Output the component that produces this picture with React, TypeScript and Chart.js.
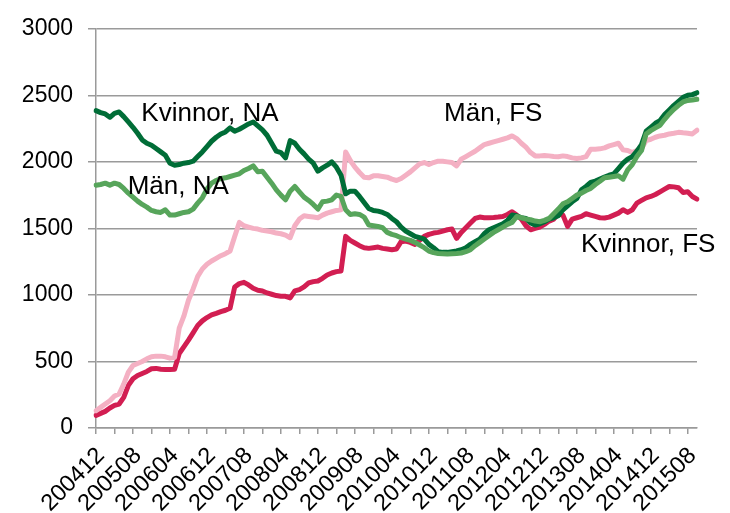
import React, { useEffect, useRef } from "react";
import { Chart, registerables } from "chart.js";

Chart.register(...registerables);

// Monthly categories 200412 .. 201510
const START_YEAR = 2004;
const START_MONTH = 12;
const MONTH_COUNT = 131;
const months: string[] = [];
for (let k = 0; k < MONTH_COUNT; k++) {
  const m0 = START_MONTH - 1 + k;
  const y = START_YEAR + Math.floor(m0 / 12);
  const m = (m0 % 12) + 1;
  months.push(`${y}${m < 10 ? "0" + m : m}`);
}

const yTicks = [0, 500, 1000, 1500, 2000, 2500, 3000];

const kvinnorNA = [
  2385, 2370, 2360, 2335, 2365, 2375, 2340, 2300, 2260, 2215,
  2165, 2140, 2125, 2100, 2075, 2050, 1990, 1975, 1980, 1990,
  1995, 2005, 2040, 2075, 2115, 2155, 2185, 2210, 2225, 2255,
  2230, 2245, 2265, 2285, 2300, 2270, 2240, 2200, 2140, 2080,
  2070, 2030, 2160, 2140, 2095, 2060, 2020, 1990, 1930, 1955,
  1975, 2000, 1960, 1900, 1760, 1780, 1780, 1740, 1695, 1650,
  1635, 1630, 1620, 1605, 1575, 1550, 1510, 1480, 1460, 1440,
  1430, 1420, 1380, 1355, 1325, 1320, 1320, 1325, 1330, 1340,
  1355, 1380, 1400, 1420, 1460, 1490, 1505, 1520, 1535, 1560,
  1600, 1595, 1580, 1575, 1540, 1525, 1535, 1550, 1570, 1580,
  1595, 1640, 1670, 1700, 1725, 1790, 1815, 1845, 1855, 1870,
  1885, 1900, 1910, 1950, 1990, 2020, 2040, 2080, 2130, 2230,
  2260, 2290, 2310, 2355, 2390, 2425, 2455, 2485, 2500, 2505,
  2520,
];

const manNA = [
  1825, 1830, 1840, 1825, 1840, 1830, 1800, 1765, 1735, 1705,
  1680, 1660, 1635, 1625, 1620, 1640, 1600, 1600, 1610, 1620,
  1625, 1645, 1690, 1730, 1795, 1840, 1860, 1875, 1880, 1890,
  1900, 1910, 1935, 1950, 1970, 1925, 1930, 1885, 1840, 1790,
  1750, 1715, 1780, 1815, 1775, 1735, 1710, 1680, 1645, 1700,
  1705, 1715, 1750, 1740, 1640, 1605, 1610, 1605, 1585, 1525,
  1520, 1515, 1505, 1470, 1455, 1445, 1430, 1420, 1410, 1395,
  1375, 1355, 1330, 1318, 1312, 1310, 1308, 1310, 1312, 1315,
  1325, 1340, 1370, 1395, 1420, 1445, 1470, 1490, 1510, 1530,
  1545, 1590, 1580, 1570, 1565, 1555, 1550, 1560, 1575, 1610,
  1645, 1685, 1700, 1725, 1750, 1765, 1785, 1800, 1830, 1855,
  1880, 1885, 1890, 1895, 1870, 1940, 1980, 2040, 2085, 2210,
  2235, 2255, 2275, 2320, 2360, 2395, 2425, 2450, 2462, 2465,
  2470,
];

const manFS = [
  130, 155, 180, 205, 240, 255, 330, 420, 470, 485,
  500, 520, 535, 540, 540, 535, 525, 530, 750, 840,
  960, 1045, 1140, 1195, 1230, 1255, 1275, 1295, 1310, 1330,
  1440, 1545, 1520, 1510, 1500, 1495, 1485, 1480, 1475, 1465,
  1460, 1450, 1430, 1520, 1570, 1595, 1590, 1585, 1580, 1600,
  1615, 1625, 1635, 1640, 2075, 2010, 1960, 1920, 1885, 1880,
  1895, 1895, 1890, 1885, 1870, 1860, 1875, 1900, 1925, 1955,
  1985, 1995, 1980, 1995, 2005, 2005, 2000, 1995, 1970, 2020,
  2040, 2060, 2080, 2105, 2130, 2140, 2150, 2160, 2170, 2180,
  2195, 2175, 2140, 2110, 2070, 2045, 2045, 2048, 2045, 2040,
  2038, 2045, 2040, 2030, 2025, 2030, 2040, 2095, 2095, 2098,
  2105, 2120, 2130, 2140, 2090, 2085, 2070, 2085, 2100, 2160,
  2170, 2185, 2195, 2200, 2210, 2215, 2222, 2218, 2215, 2210,
  2238,
];

const kvinnorFS = [
  95, 110, 125, 150, 170, 180, 230, 320, 370, 395,
  410, 425, 445, 448, 442, 440, 440, 442, 560, 610,
  660, 715, 770, 805, 830, 850, 862, 875, 885, 900,
  1060, 1085, 1095, 1075, 1050, 1035, 1030, 1015, 1005, 995,
  990, 990, 978, 1030, 1040, 1060, 1090, 1100, 1105, 1125,
  1150, 1165, 1175, 1180, 1440, 1410, 1390, 1370, 1355, 1350,
  1355, 1360, 1350, 1345, 1340, 1345, 1400, 1405, 1395, 1380,
  1410, 1440, 1455, 1465, 1470, 1480, 1490, 1495, 1425, 1470,
  1505, 1540, 1575, 1585, 1580, 1580, 1582, 1585, 1590, 1605,
  1625, 1600, 1570, 1520, 1490, 1500, 1510, 1530, 1555, 1570,
  1610, 1600, 1515, 1570, 1580, 1590, 1610, 1600, 1590, 1580,
  1578, 1585, 1600, 1615, 1640, 1620, 1640, 1690, 1710, 1730,
  1740, 1755, 1775, 1795, 1815, 1812, 1805, 1770, 1775, 1740,
  1720,
];

// Series labels placed in data coordinates (category index, value at text baseline)
const annoText = ["Kvinnor, NA", "Män, NA", "Män, FS", "Kvinnor, FS"];
const annoIndex = [9.8, 6.85, 75.3, 104.9];
const annoValue = [2309, 1761, 2309, 1324];

const FONT = "'Liberation Sans', Arial, sans-serif";
const GRID = "#9a9a9a";

const annotationPlugin = {
  id: "seriesLabels",
  afterDatasetsDraw(chart: any) {
    const { ctx, scales } = chart;
    ctx.save();
    ctx.font = `26px ${FONT}`;
    ctx.fillStyle = "#000";
    ctx.textAlign = "left";
    ctx.textBaseline = "alphabetic";
    annoText.forEach((t, k) => {
      const x = scales.x.getPixelForValue(annoIndex[k]);
      const y = scales.y.getPixelForValue(annoValue[k]);
      ctx.fillText(t, x, y);
    });
    ctx.restore();
  },
};

export default function App() {
  const ref = useRef<HTMLCanvasElement>(null);
  useEffect(() => {
    if (!ref.current) return;
    const chart = new Chart(ref.current, {
      type: "line",
      data: {
        labels: months,
        datasets: [
          { label: "Män, NA", data: manNA, borderColor: "#57a55b" },
          { label: "Kvinnor, NA", data: kvinnorNA, borderColor: "#006d37" },
          { label: "Män, FS", data: manFS, borderColor: "#f4b0c3" },
          { label: "Kvinnor, FS", data: kvinnorFS, borderColor: "#d21e52" },
        ].map((d) => ({
          ...d,
          borderWidth: 5,
          pointRadius: 0,
          tension: 0,
          fill: false,
          borderJoinStyle: "round" as const,
          borderCapStyle: "round" as const,
        })),
      },
      options: {
        responsive: false,
        animation: false,
        events: [],
        layout: { padding: { left: 0, right: 33, top: 17, bottom: 0 } },
        plugins: { legend: { display: false }, tooltip: { enabled: false } },
        scales: {
          x: {
            type: "category",
            offset: false,
            afterFit: (s: any) => {
              s.height = 85;
            },
            grid: {
              drawOnChartArea: false,
              drawTicks: true,
              tickLength: 6,
              lineWidth: 1.5,
              color: (c: any) => (c.index % 4 === 0 ? GRID : "rgba(0,0,0,0)"),
            },
            border: { display: true, color: GRID, width: 1.5 },
            ticks: {
              autoSkip: false,
              minRotation: 45,
              maxRotation: 45,
              padding: 8,
              labelOffset: 5,
              color: "#000",
              font: { family: FONT, size: 23.5 },
              callback: (_v: any, i: number) => (i % 8 === 0 ? months[i] : ""),
            },
          },
          y: {
            min: 0,
            max: 3000,
            afterFit: (s: any) => {
              s.width = 96;
            },
            afterBuildTicks: (s: any) => {
              s.ticks = yTicks.map((v) => ({ value: v }));
            },
            grid: { color: GRID, lineWidth: 1.5, tickLength: 8 },
            border: { display: true, color: GRID, width: 1.5 },
            ticks: {
              padding: 15,
              color: "#000",
              font: { family: FONT, size: 23 },
              callback: (v: any) => String(v),
            },
          },
        },
      },
      plugins: [annotationPlugin],
    });
    return () => chart.destroy();
  }, []);
  return (
    <div style={{ position: "absolute", left: 0, top: 0, width: 730, height: 513 }}>
      <canvas ref={ref} width={730} height={513} />
    </div>
  );
}
